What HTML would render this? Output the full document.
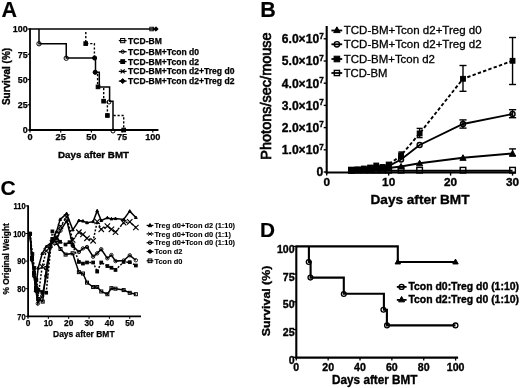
<!DOCTYPE html>
<html lang="en">
<head>
<meta charset="utf-8">
<title>Figure</title>
<style>
html,body{margin:0;padding:0;background:#fff;}
body{width:520px;height:388px;overflow:hidden;}
svg{display:block;font-family:'Liberation Sans', sans-serif;filter:blur(0.4px);}
svg text{fill:#000;}
</style>
</head>
<body>
<svg width="520" height="388" viewBox="0 0 520 388" font-family="'Liberation Sans', sans-serif">
<rect width="520" height="388" fill="#fff"/>
<text x="1.40" y="17.10" font-size="21.5" font-weight="bold" text-anchor="start" stroke="#000" stroke-width="0.15">A</text>
<line x1="30.0" y1="28.2" x2="30.0" y2="130.9" stroke="#000" stroke-width="1.8"/>
<line x1="29.1" y1="130.0" x2="158.44879999999998" y2="130.0" stroke="#000" stroke-width="1.8"/>
<line x1="27.6" y1="130.0" x2="30.0" y2="130.0" stroke="#000" stroke-width="1.2"/>
<text x="27.60" y="133.40" font-size="8.9" font-weight="bold" text-anchor="end" stroke="#000" stroke-width="0.25">0</text>
<line x1="27.6" y1="104.75" x2="30.0" y2="104.75" stroke="#000" stroke-width="1.2"/>
<text x="27.60" y="108.15" font-size="8.9" font-weight="bold" text-anchor="end" stroke="#000" stroke-width="0.25">25</text>
<line x1="27.6" y1="79.5" x2="30.0" y2="79.5" stroke="#000" stroke-width="1.2"/>
<text x="27.60" y="82.90" font-size="8.9" font-weight="bold" text-anchor="end" stroke="#000" stroke-width="0.25">50</text>
<line x1="27.6" y1="54.25" x2="30.0" y2="54.25" stroke="#000" stroke-width="1.2"/>
<text x="27.60" y="57.65" font-size="8.9" font-weight="bold" text-anchor="end" stroke="#000" stroke-width="0.25">75</text>
<line x1="27.6" y1="29.0" x2="30.0" y2="29.0" stroke="#000" stroke-width="1.2"/>
<text x="27.60" y="32.40" font-size="8.9" font-weight="bold" text-anchor="end" stroke="#000" stroke-width="0.25">100</text>
<line x1="30.0" y1="130.0" x2="30.0" y2="132.4" stroke="#000" stroke-width="1.2"/>
<text x="30.00" y="139.50" font-size="9.2" font-weight="bold" text-anchor="middle" stroke="#000" stroke-width="0.25">0</text>
<line x1="60.7" y1="130.0" x2="60.7" y2="132.4" stroke="#000" stroke-width="1.2"/>
<text x="60.70" y="139.50" font-size="9.2" font-weight="bold" text-anchor="middle" stroke="#000" stroke-width="0.25">25</text>
<line x1="91.4" y1="130.0" x2="91.4" y2="132.4" stroke="#000" stroke-width="1.2"/>
<text x="91.40" y="139.50" font-size="9.2" font-weight="bold" text-anchor="middle" stroke="#000" stroke-width="0.25">50</text>
<line x1="122.1" y1="130.0" x2="122.1" y2="132.4" stroke="#000" stroke-width="1.2"/>
<text x="122.10" y="139.50" font-size="9.2" font-weight="bold" text-anchor="middle" stroke="#000" stroke-width="0.25">75</text>
<line x1="152.8" y1="130.0" x2="152.8" y2="132.4" stroke="#000" stroke-width="1.2"/>
<text x="152.80" y="139.50" font-size="9.2" font-weight="bold" text-anchor="middle" stroke="#000" stroke-width="0.25">100</text>
<text x="93.50" y="157.90" font-size="9.6" font-weight="bold" text-anchor="middle" textLength="71" lengthAdjust="spacingAndGlyphs" stroke="#000" stroke-width="0.35">Days after BMT</text>
<text x="9.80" y="76.50" font-size="10.0" font-weight="bold" text-anchor="middle" transform="rotate(-90 9.8 76.5)" textLength="57.2" lengthAdjust="spacingAndGlyphs" stroke="#000" stroke-width="0.35">Survival (%)</text>
<line x1="30.0" y1="29.0" x2="156.5" y2="29.0" stroke="#000" stroke-width="1.7"/>
<rect x="149.80" y="27.20" width="3.6" height="3.6" fill="none" stroke="#000" stroke-width="0.9"/>
<path d="M152.05,27.25L155.55,30.75M152.05,30.75L155.55,27.25" stroke="#000" stroke-width="0.9" fill="none"/>
<polygon points="156.00,26.80 158.20,29.00 156.00,31.20 153.80,29.00" fill="#000" stroke="#000" stroke-width="1"/>
<polyline points="39.00,29.00 39.00,43.75 66.25,43.75 66.25,58.00 95.50,58.00 95.50,72.30 99.30,72.30 99.30,86.90 109.60,86.90 109.60,101.20 113.00,101.20 113.00,130.00" fill="none" stroke="#000" stroke-width="1.5" stroke-linejoin="miter" stroke-linecap="butt"/>
<polyline points="85.80,32.00 85.80,43.60 94.40,43.60 94.40,58.00" fill="none" stroke="#000" stroke-width="1.4" stroke-linejoin="miter" stroke-linecap="butt" stroke-dasharray="2.2,1.8"/>
<polyline points="97.60,74.00 97.60,86.90" fill="none" stroke="#000" stroke-width="1.4" stroke-linejoin="miter" stroke-linecap="butt" stroke-dasharray="2.2,1.8"/>
<polyline points="103.70,88.00 103.70,101.20" fill="none" stroke="#000" stroke-width="1.4" stroke-linejoin="miter" stroke-linecap="butt" stroke-dasharray="2.2,1.8"/>
<polyline points="107.40,101.20 107.40,115.50" fill="none" stroke="#000" stroke-width="1.4" stroke-linejoin="miter" stroke-linecap="butt" stroke-dasharray="2.2,1.8"/>
<polyline points="113.50,115.50 123.70,115.50 123.70,130.00" fill="none" stroke="#000" stroke-width="1.4" stroke-linejoin="miter" stroke-linecap="butt" stroke-dasharray="2.2,1.8"/>
<circle cx="39.00" cy="43.75" r="2.2" fill="none" stroke="#000" stroke-width="1"/>
<circle cx="66.25" cy="58.20" r="2.2" fill="none" stroke="#000" stroke-width="1"/>
<rect x="83.90" y="41.80" width="3.6" height="3.6" fill="#000" stroke="#000" stroke-width="1"/>
<circle cx="94.60" cy="58.00" r="2.1" fill="#000" stroke="#000" stroke-width="1"/>
<circle cx="95.20" cy="72.30" r="2.1" fill="#000" stroke="#000" stroke-width="1"/>
<rect x="96.20" y="85.10" width="3.6" height="3.6" fill="#000" stroke="#000" stroke-width="1"/>
<rect x="101.80" y="99.40" width="3.6" height="3.6" fill="#000" stroke="#000" stroke-width="1"/>
<circle cx="109.00" cy="102.00" r="2.0" fill="none" stroke="#000" stroke-width="1"/>
<rect x="105.60" y="113.70" width="3.6" height="3.6" fill="#000" stroke="#000" stroke-width="1"/>
<circle cx="113.00" cy="131.00" r="2.0" fill="none" stroke="#000" stroke-width="1"/>
<rect x="121.90" y="128.20" width="3.6" height="3.6" fill="#000" stroke="#000" stroke-width="1"/>
<line x1="118.8" y1="40.6" x2="126.6" y2="40.6" stroke="#000" stroke-width="1.3"/>
<rect x="120.60" y="38.50" width="4.2" height="4.2" fill="none" stroke="#000" stroke-width="1.0"/>
<text x="128.10" y="43.60" font-size="8.2" font-weight="bold" text-anchor="start" textLength="33.73" lengthAdjust="spacingAndGlyphs" stroke="#000" stroke-width="0.25">TCD-BM</text>
<line x1="118.8" y1="51.7" x2="126.6" y2="51.7" stroke="#000" stroke-width="1.3"/>
<circle cx="122.70" cy="51.70" r="1.7" fill="none" stroke="#000" stroke-width="1.0"/>
<text x="128.10" y="54.70" font-size="8.2" font-weight="bold" text-anchor="start" textLength="70.88" lengthAdjust="spacingAndGlyphs" stroke="#000" stroke-width="0.25">TCD-BM+Tcon d0</text>
<line x1="118.8" y1="61.6" x2="126.6" y2="61.6" stroke="#000" stroke-width="1.3"/>
<rect x="120.80" y="59.70" width="3.8" height="3.8" fill="#000" stroke="#000" stroke-width="1"/>
<text x="128.10" y="64.60" font-size="8.2" font-weight="bold" text-anchor="start" textLength="70.88" lengthAdjust="spacingAndGlyphs" stroke="#000" stroke-width="0.25">TCD-BM+Tcon d2</text>
<line x1="118.8" y1="71.4" x2="126.6" y2="71.4" stroke="#000" stroke-width="1.3"/>
<path d="M120.70,69.40L124.70,73.40M120.70,73.40L124.70,69.40" stroke="#000" stroke-width="1.2" fill="none"/>
<text x="128.10" y="74.40" font-size="8.2" font-weight="bold" text-anchor="start" textLength="106.3" lengthAdjust="spacingAndGlyphs" stroke="#000" stroke-width="0.25">TCD-BM+Tcon d2+Treg d0</text>
<line x1="118.8" y1="81.1" x2="126.6" y2="81.1" stroke="#000" stroke-width="1.3"/>
<polygon points="122.70,78.60 125.20,81.10 122.70,83.60 120.20,81.10" fill="#000" stroke="#000" stroke-width="1"/>
<text x="128.10" y="84.10" font-size="8.2" font-weight="bold" text-anchor="start" textLength="106.3" lengthAdjust="spacingAndGlyphs" stroke="#000" stroke-width="0.25">TCD-BM+Tcon d2+Treg d2</text>
<text x="260.20" y="17.00" font-size="21.5" font-weight="bold" text-anchor="start" stroke="#000" stroke-width="0.15">B</text>
<line x1="326.7" y1="26" x2="326.7" y2="173.6" stroke="#000" stroke-width="2.1"/>
<line x1="325.7" y1="172.5" x2="515.75" y2="172.5" stroke="#000" stroke-width="2.2"/>
<line x1="323.7" y1="172.0" x2="326.7" y2="172.0" stroke="#000" stroke-width="1.4"/>
<text x="323.30" y="176.30" font-size="12.1" font-weight="bold" text-anchor="end" stroke="#000" stroke-width="0.35">0</text>
<line x1="323.7" y1="149.8" x2="326.7" y2="149.8" stroke="#000" stroke-width="1.4"/>
<text x="323.7" y="154.10000000000002" font-size="12.1" font-weight="bold" text-anchor="end" stroke="#000" stroke-width="0.35">1.0×10<tspan font-size="8.2" dy="-4.4">7</tspan></text>
<line x1="323.7" y1="127.6" x2="326.7" y2="127.6" stroke="#000" stroke-width="1.4"/>
<text x="323.7" y="131.9" font-size="12.1" font-weight="bold" text-anchor="end" stroke="#000" stroke-width="0.35">2.0×10<tspan font-size="8.2" dy="-4.4">7</tspan></text>
<line x1="323.7" y1="105.4" x2="326.7" y2="105.4" stroke="#000" stroke-width="1.4"/>
<text x="323.7" y="109.7" font-size="12.1" font-weight="bold" text-anchor="end" stroke="#000" stroke-width="0.35">3.0×10<tspan font-size="8.2" dy="-4.4">7</tspan></text>
<line x1="323.7" y1="83.2" x2="326.7" y2="83.2" stroke="#000" stroke-width="1.4"/>
<text x="323.7" y="87.5" font-size="12.1" font-weight="bold" text-anchor="end" stroke="#000" stroke-width="0.35">4.0×10<tspan font-size="8.2" dy="-4.4">7</tspan></text>
<line x1="323.7" y1="61.0" x2="326.7" y2="61.0" stroke="#000" stroke-width="1.4"/>
<text x="323.7" y="65.3" font-size="12.1" font-weight="bold" text-anchor="end" stroke="#000" stroke-width="0.35">5.0×10<tspan font-size="8.2" dy="-4.4">7</tspan></text>
<line x1="323.7" y1="38.80000000000001" x2="326.7" y2="38.80000000000001" stroke="#000" stroke-width="1.4"/>
<text x="323.7" y="43.10000000000001" font-size="12.1" font-weight="bold" text-anchor="end" stroke="#000" stroke-width="0.35">6.0×10<tspan font-size="8.2" dy="-4.4">7</tspan></text>
<line x1="326.7" y1="172.0" x2="326.7" y2="175.6" stroke="#000" stroke-width="1.4"/>
<text x="326.70" y="186.10" font-size="11.8" font-weight="bold" text-anchor="middle" stroke="#000" stroke-width="0.35">0</text>
<line x1="388.65" y1="172.0" x2="388.65" y2="175.6" stroke="#000" stroke-width="1.4"/>
<text x="388.65" y="186.10" font-size="11.8" font-weight="bold" text-anchor="middle" stroke="#000" stroke-width="0.35">10</text>
<line x1="450.6" y1="172.0" x2="450.6" y2="175.6" stroke="#000" stroke-width="1.4"/>
<text x="450.60" y="186.10" font-size="11.8" font-weight="bold" text-anchor="middle" stroke="#000" stroke-width="0.35">20</text>
<line x1="512.55" y1="172.0" x2="512.55" y2="175.6" stroke="#000" stroke-width="1.4"/>
<text x="512.55" y="186.10" font-size="11.8" font-weight="bold" text-anchor="middle" stroke="#000" stroke-width="0.35">30</text>
<text x="420.00" y="204.00" font-size="13.6" font-weight="bold" text-anchor="middle" stroke="#000" stroke-width="0.35">Days after BMT</text>
<text x="271.00" y="96.00" font-size="14.3" font-weight="normal" text-anchor="middle" transform="rotate(-90 271.0 96.0)" textLength="127.4" lengthAdjust="spacingAndGlyphs" stroke="#000" stroke-width="0.7">Photons/sec/mouse</text>
<polyline points="351.48,170.80 357.68,170.80 363.87,170.80 370.06,170.80 376.26,170.80 382.45,170.80 388.65,170.80 401.04,170.80 419.62,170.80 462.99,170.80 512.55,170.80" fill="none" stroke="#000" stroke-width="1.9" stroke-linejoin="miter" stroke-linecap="butt"/>
<polyline points="351.48,170.50 357.68,170.00 363.87,169.50 370.06,169.00 376.26,168.50 382.45,168.50 388.65,168.00 401.04,166.50 419.62,163.30 462.99,157.80 512.55,153.50" fill="none" stroke="#000" stroke-width="1.9" stroke-linejoin="miter" stroke-linecap="butt"/>
<polyline points="351.48,170.50 357.68,170.00 363.87,169.50 370.06,168.50 376.26,167.00 382.45,167.50 388.65,166.00 401.04,159.50 419.62,145.00 462.99,124.00 512.55,114.00" fill="none" stroke="#000" stroke-width="1.9" stroke-linejoin="miter" stroke-linecap="butt"/>
<polyline points="351.48,170.00 357.68,169.50 363.87,168.50 370.06,167.50 376.26,165.50 382.45,167.00 388.65,164.50 401.04,155.40 419.62,133.40 462.99,78.80 512.55,60.80" fill="none" stroke="#000" stroke-width="1.9" stroke-linejoin="miter" stroke-linecap="butt" stroke-dasharray="3.4,2.2"/>
<line x1="462.99" y1="65.5" x2="462.99" y2="91.3" stroke="#000" stroke-width="1.4"/>
<line x1="459.49" y1="65.5" x2="466.49" y2="65.5" stroke="#000" stroke-width="1.4"/>
<line x1="459.49" y1="91.3" x2="466.49" y2="91.3" stroke="#000" stroke-width="1.4"/>
<line x1="512.55" y1="37.5" x2="512.55" y2="84.5" stroke="#000" stroke-width="1.4"/>
<line x1="509.04999999999995" y1="37.5" x2="516.05" y2="37.5" stroke="#000" stroke-width="1.4"/>
<line x1="509.04999999999995" y1="84.5" x2="516.05" y2="84.5" stroke="#000" stroke-width="1.4"/>
<line x1="419.625" y1="128.4" x2="419.625" y2="137.6" stroke="#000" stroke-width="1.4"/>
<line x1="416.625" y1="128.4" x2="422.625" y2="128.4" stroke="#000" stroke-width="1.4"/>
<line x1="416.625" y1="137.6" x2="422.625" y2="137.6" stroke="#000" stroke-width="1.4"/>
<line x1="401.03999999999996" y1="152" x2="401.03999999999996" y2="158.5" stroke="#000" stroke-width="1.4"/>
<line x1="398.43999999999994" y1="152" x2="403.64" y2="152" stroke="#000" stroke-width="1.4"/>
<line x1="398.43999999999994" y1="158.5" x2="403.64" y2="158.5" stroke="#000" stroke-width="1.4"/>
<line x1="462.99" y1="119.9" x2="462.99" y2="128.1" stroke="#000" stroke-width="1.4"/>
<line x1="459.39" y1="119.9" x2="466.59000000000003" y2="119.9" stroke="#000" stroke-width="1.4"/>
<line x1="459.39" y1="128.1" x2="466.59000000000003" y2="128.1" stroke="#000" stroke-width="1.4"/>
<line x1="512.55" y1="109.7" x2="512.55" y2="117.7" stroke="#000" stroke-width="1.4"/>
<line x1="508.94999999999993" y1="109.7" x2="516.15" y2="109.7" stroke="#000" stroke-width="1.4"/>
<line x1="508.94999999999993" y1="117.7" x2="516.15" y2="117.7" stroke="#000" stroke-width="1.4"/>
<line x1="512.55" y1="148.9" x2="512.55" y2="156" stroke="#000" stroke-width="1.4"/>
<line x1="509.15" y1="148.9" x2="515.9499999999999" y2="148.9" stroke="#000" stroke-width="1.4"/>
<line x1="509.15" y1="156" x2="515.9499999999999" y2="156" stroke="#000" stroke-width="1.4"/>
<rect x="348.68" y="167.40" width="5.6" height="5.6" fill="none" stroke="#000" stroke-width="1.4"/>
<rect x="354.88" y="167.40" width="5.6" height="5.6" fill="none" stroke="#000" stroke-width="1.4"/>
<rect x="361.07" y="167.40" width="5.6" height="5.6" fill="none" stroke="#000" stroke-width="1.4"/>
<rect x="367.26" y="167.40" width="5.6" height="5.6" fill="none" stroke="#000" stroke-width="1.4"/>
<rect x="373.46" y="167.40" width="5.6" height="5.6" fill="none" stroke="#000" stroke-width="1.4"/>
<rect x="379.65" y="167.40" width="5.6" height="5.6" fill="none" stroke="#000" stroke-width="1.4"/>
<rect x="385.85" y="167.40" width="5.6" height="5.6" fill="none" stroke="#000" stroke-width="1.4"/>
<rect x="398.24" y="167.40" width="5.6" height="5.6" fill="none" stroke="#000" stroke-width="1.4"/>
<rect x="416.82" y="167.40" width="5.6" height="5.6" fill="none" stroke="#000" stroke-width="1.4"/>
<rect x="460.19" y="167.40" width="5.6" height="5.6" fill="none" stroke="#000" stroke-width="1.4"/>
<rect x="509.75" y="167.40" width="5.6" height="5.6" fill="none" stroke="#000" stroke-width="1.4"/>
<polygon points="351.48,167.45 348.38,173.03 354.58,173.03" fill="#000" stroke="#000" stroke-width="1" stroke-linejoin="miter"/>
<polygon points="357.68,166.95 354.57,172.53 360.78,172.53" fill="#000" stroke="#000" stroke-width="1" stroke-linejoin="miter"/>
<polygon points="363.87,166.45 360.77,172.03 366.97,172.03" fill="#000" stroke="#000" stroke-width="1" stroke-linejoin="miter"/>
<polygon points="370.06,165.95 366.96,171.53 373.17,171.53" fill="#000" stroke="#000" stroke-width="1" stroke-linejoin="miter"/>
<polygon points="376.26,165.45 373.16,171.03 379.36,171.03" fill="#000" stroke="#000" stroke-width="1" stroke-linejoin="miter"/>
<polygon points="382.45,165.45 379.35,171.03 385.56,171.03" fill="#000" stroke="#000" stroke-width="1" stroke-linejoin="miter"/>
<polygon points="388.65,164.95 385.55,170.53 391.75,170.53" fill="#000" stroke="#000" stroke-width="1" stroke-linejoin="miter"/>
<polygon points="401.04,163.45 397.94,169.03 404.14,169.03" fill="#000" stroke="#000" stroke-width="1" stroke-linejoin="miter"/>
<polygon points="419.62,160.25 416.52,165.83 422.73,165.83" fill="#000" stroke="#000" stroke-width="1" stroke-linejoin="miter"/>
<polygon points="462.99,154.75 459.89,160.33 466.09,160.33" fill="#000" stroke="#000" stroke-width="1" stroke-linejoin="miter"/>
<polygon points="512.55,150.45 509.45,156.03 515.65,156.03" fill="#000" stroke="#000" stroke-width="1" stroke-linejoin="miter"/>
<circle cx="351.48" cy="170.50" r="2.5" fill="none" stroke="#000" stroke-width="1.4"/>
<circle cx="357.68" cy="170.00" r="2.5" fill="none" stroke="#000" stroke-width="1.4"/>
<circle cx="363.87" cy="169.50" r="2.5" fill="none" stroke="#000" stroke-width="1.4"/>
<circle cx="370.06" cy="168.50" r="2.5" fill="none" stroke="#000" stroke-width="1.4"/>
<circle cx="376.26" cy="167.00" r="2.5" fill="none" stroke="#000" stroke-width="1.4"/>
<circle cx="382.45" cy="167.50" r="2.5" fill="none" stroke="#000" stroke-width="1.4"/>
<circle cx="388.65" cy="166.00" r="2.5" fill="none" stroke="#000" stroke-width="1.4"/>
<circle cx="401.04" cy="159.50" r="2.5" fill="none" stroke="#000" stroke-width="1.4"/>
<circle cx="419.62" cy="145.00" r="2.5" fill="none" stroke="#000" stroke-width="1.4"/>
<circle cx="462.99" cy="124.00" r="2.5" fill="none" stroke="#000" stroke-width="1.4"/>
<circle cx="512.55" cy="114.00" r="2.5" fill="none" stroke="#000" stroke-width="1.4"/>
<rect x="349.08" y="167.60" width="4.8" height="4.8" fill="#000" stroke="#000" stroke-width="1"/>
<rect x="355.28" y="167.10" width="4.8" height="4.8" fill="#000" stroke="#000" stroke-width="1"/>
<rect x="361.47" y="166.10" width="4.8" height="4.8" fill="#000" stroke="#000" stroke-width="1"/>
<rect x="367.67" y="165.10" width="4.8" height="4.8" fill="#000" stroke="#000" stroke-width="1"/>
<rect x="373.86" y="163.10" width="4.8" height="4.8" fill="#000" stroke="#000" stroke-width="1"/>
<rect x="380.06" y="164.60" width="4.8" height="4.8" fill="#000" stroke="#000" stroke-width="1"/>
<rect x="386.25" y="162.10" width="4.8" height="4.8" fill="#000" stroke="#000" stroke-width="1"/>
<rect x="398.64" y="153.00" width="4.8" height="4.8" fill="#000" stroke="#000" stroke-width="1"/>
<rect x="417.23" y="131.00" width="4.8" height="4.8" fill="#000" stroke="#000" stroke-width="1"/>
<rect x="460.59" y="76.40" width="4.8" height="4.8" fill="#000" stroke="#000" stroke-width="1"/>
<rect x="510.15" y="58.40" width="4.8" height="4.8" fill="#000" stroke="#000" stroke-width="1"/>
<line x1="331.4" y1="30.5" x2="342.2" y2="30.5" stroke="#000" stroke-width="1.8"/>
<polygon points="336.90,26.84 333.70,32.60 340.10,32.60" fill="#000" stroke="#000" stroke-width="1" stroke-linejoin="miter"/>
<text x="343.70" y="33.60" font-size="11.4" font-weight="normal" text-anchor="start" textLength="138" lengthAdjust="spacingAndGlyphs" stroke="#000" stroke-width="0.3">TCD-BM+Tcon d2+Treg d0</text>
<line x1="331.4" y1="44.3" x2="342.2" y2="44.3" stroke="#000" stroke-width="1.8"/>
<circle cx="336.90" cy="44.30" r="2.7" fill="none" stroke="#000" stroke-width="1.4"/>
<text x="343.70" y="47.70" font-size="11.4" font-weight="normal" text-anchor="start" textLength="138" lengthAdjust="spacingAndGlyphs" stroke="#000" stroke-width="0.3">TCD-BM+Tcon d2+Treg d2</text>
<line x1="331.4" y1="59.0" x2="342.2" y2="59.0" stroke="#000" stroke-width="1.8"/>
<rect x="334.10" y="56.20" width="5.6" height="5.6" fill="#000" stroke="#000" stroke-width="1"/>
<text x="343.70" y="62.80" font-size="11.4" font-weight="normal" text-anchor="start" textLength="91.3" lengthAdjust="spacingAndGlyphs" stroke="#000" stroke-width="0.3">TCD-BM+Tcon d2</text>
<line x1="331.4" y1="73.0" x2="342.2" y2="73.0" stroke="#000" stroke-width="1.8"/>
<rect x="334.30" y="70.40" width="5.2" height="5.2" fill="none" stroke="#000" stroke-width="1.4"/>
<text x="343.70" y="76.80" font-size="11.4" font-weight="normal" text-anchor="start" textLength="43.8" lengthAdjust="spacingAndGlyphs" stroke="#000" stroke-width="0.3">TCD-BM</text>
<text x="0.60" y="194.80" font-size="21" font-weight="bold" text-anchor="start" stroke="#000" stroke-width="0.15">C</text>
<line x1="28.1" y1="205.30000000000004" x2="28.1" y2="317.2" stroke="#000" stroke-width="1.8"/>
<line x1="27.2" y1="316.3" x2="141" y2="316.3" stroke="#000" stroke-width="1.8"/>
<line x1="25.4" y1="316.3" x2="28.0" y2="316.3" stroke="#000" stroke-width="1.0"/>
<text x="25.60" y="319.60" font-size="8.3" font-weight="bold" text-anchor="end" textLength="8.31" lengthAdjust="spacingAndGlyphs" stroke="#000" stroke-width="0.25">70</text>
<line x1="25.4" y1="288.7" x2="28.0" y2="288.7" stroke="#000" stroke-width="1.0"/>
<text x="25.60" y="292.00" font-size="8.3" font-weight="bold" text-anchor="end" textLength="8.31" lengthAdjust="spacingAndGlyphs" stroke="#000" stroke-width="0.25">80</text>
<line x1="25.4" y1="261.1" x2="28.0" y2="261.1" stroke="#000" stroke-width="1.0"/>
<text x="25.60" y="264.40" font-size="8.3" font-weight="bold" text-anchor="end" textLength="8.31" lengthAdjust="spacingAndGlyphs" stroke="#000" stroke-width="0.25">90</text>
<line x1="25.4" y1="233.5" x2="28.0" y2="233.5" stroke="#000" stroke-width="1.0"/>
<text x="25.60" y="236.80" font-size="8.3" font-weight="bold" text-anchor="end" textLength="12.46" lengthAdjust="spacingAndGlyphs" stroke="#000" stroke-width="0.25">100</text>
<line x1="25.4" y1="205.90000000000003" x2="28.0" y2="205.90000000000003" stroke="#000" stroke-width="1.0"/>
<text x="25.60" y="209.20" font-size="8.3" font-weight="bold" text-anchor="end" textLength="12.05" lengthAdjust="spacingAndGlyphs" stroke="#000" stroke-width="0.25">110</text>
<line x1="28.0" y1="316.3" x2="28.0" y2="318.90000000000003" stroke="#000" stroke-width="1.0"/>
<text x="28.00" y="325.50" font-size="8.3" font-weight="bold" text-anchor="middle" stroke="#000" stroke-width="0.25">0</text>
<line x1="48.35" y1="316.3" x2="48.35" y2="318.90000000000003" stroke="#000" stroke-width="1.0"/>
<text x="48.35" y="325.50" font-size="8.3" font-weight="bold" text-anchor="middle" stroke="#000" stroke-width="0.25">10</text>
<line x1="68.7" y1="316.3" x2="68.7" y2="318.90000000000003" stroke="#000" stroke-width="1.0"/>
<text x="68.70" y="325.50" font-size="8.3" font-weight="bold" text-anchor="middle" stroke="#000" stroke-width="0.25">20</text>
<line x1="89.05000000000001" y1="316.3" x2="89.05000000000001" y2="318.90000000000003" stroke="#000" stroke-width="1.0"/>
<text x="89.05" y="325.50" font-size="8.3" font-weight="bold" text-anchor="middle" stroke="#000" stroke-width="0.25">30</text>
<line x1="109.4" y1="316.3" x2="109.4" y2="318.90000000000003" stroke="#000" stroke-width="1.0"/>
<text x="109.40" y="325.50" font-size="8.3" font-weight="bold" text-anchor="middle" stroke="#000" stroke-width="0.25">40</text>
<line x1="129.75" y1="316.3" x2="129.75" y2="318.90000000000003" stroke="#000" stroke-width="1.0"/>
<text x="129.75" y="325.50" font-size="8.3" font-weight="bold" text-anchor="middle" stroke="#000" stroke-width="0.25">50</text>
<text x="83.80" y="337.40" font-size="9.0" font-weight="bold" text-anchor="middle" textLength="61.5" lengthAdjust="spacingAndGlyphs" stroke="#000" stroke-width="0.25">Days after BMT</text>
<text x="8.80" y="258.80" font-size="8.4" font-weight="bold" text-anchor="middle" transform="rotate(-90 8.8 258.8)" textLength="71.2" lengthAdjust="spacingAndGlyphs" stroke="#000" stroke-width="0.25">% Original Weight</text>
<polyline points="30.00,233.80 32.00,258.00 34.00,273.00 36.00,288.00 38.20,299.00 42.70,301.60 46.30,268.00 50.40,246.00 52.40,239.00 56.50,243.00 60.50,249.00 65.60,254.60 72.60,253.30 78.88,272.14 82.95,273.52 87.02,282.63 93.12,287.04 97.19,287.04 101.26,291.46 107.37,294.22 111.44,288.15 115.51,288.70 123.65,290.08 129.75,292.84 135.86,294.22" fill="none" stroke="#000" stroke-width="1.5" stroke-linejoin="miter" stroke-linecap="butt"/>
<polyline points="30.00,233.80 32.00,260.00 34.00,276.00 36.00,291.00 37.80,303.60 42.20,296.00 46.30,276.00 50.40,247.00 52.40,240.50 56.50,239.00 60.50,230.70 66.80,220.60 73.00,246.00 78.88,251.99 82.95,248.40 87.02,247.02 93.12,256.68 97.19,253.37 101.26,249.23 107.37,258.34 111.44,255.03 115.51,261.10 123.65,260.55 129.75,255.30 135.86,260.27" fill="none" stroke="#000" stroke-width="1.5" stroke-linejoin="miter" stroke-linecap="butt"/>
<polyline points="30.00,233.80 32.40,254.00 34.40,268.00 36.40,280.00 38.40,290.00 42.20,292.00 46.20,292.70 52.40,231.40 56.50,238.00 60.00,241.80 65.50,244.50 69.50,242.20 72.50,244.50 78.88,261.93 82.95,263.58 87.02,262.48 93.12,262.48 97.19,271.59 101.26,262.48 107.37,266.07 111.44,267.72 115.51,269.93 123.65,261.93 129.75,262.20 135.86,265.52" fill="none" stroke="#000" stroke-width="1.5" stroke-linejoin="miter" stroke-linecap="butt" stroke-dasharray="2,1.6"/>
<polyline points="30.00,233.80 32.20,256.00 34.20,270.00 36.20,284.00 38.20,296.00 42.20,266.50 46.30,251.00 52.40,243.00 56.50,237.60 60.50,226.50 66.60,217.00 72.70,240.00 78.88,232.20 82.95,234.41 87.02,238.30 93.12,240.79 97.19,221.49 101.26,229.30 107.37,226.10 111.44,229.30 115.51,232.20 123.65,222.71 129.75,221.80 135.86,227.51" fill="none" stroke="#000" stroke-width="1.5" stroke-linejoin="miter" stroke-linecap="butt" stroke-dasharray="2,1.6"/>
<polyline points="30.00,233.80 32.00,259.00 34.00,274.00 35.60,290.40 38.20,268.00 42.20,253.50 46.30,246.50 52.40,241.50 56.50,231.60 60.20,219.40 66.60,213.60 72.80,229.80 78.88,220.53 82.95,221.08 87.02,222.74 93.12,221.63 97.19,210.87 101.26,220.53 107.37,217.77 111.44,218.87 115.51,218.60 123.65,219.42 129.75,211.14 135.86,217.49" fill="none" stroke="#000" stroke-width="1.5" stroke-linejoin="miter" stroke-linecap="butt"/>
<rect x="28.50" y="232.30" width="3.0" height="3.0" fill="none" stroke="#000" stroke-width="1.0"/>
<rect x="30.50" y="256.50" width="3.0" height="3.0" fill="none" stroke="#000" stroke-width="1.0"/>
<rect x="32.50" y="271.50" width="3.0" height="3.0" fill="none" stroke="#000" stroke-width="1.0"/>
<rect x="34.50" y="286.50" width="3.0" height="3.0" fill="none" stroke="#000" stroke-width="1.0"/>
<rect x="36.70" y="297.50" width="3.0" height="3.0" fill="none" stroke="#000" stroke-width="1.0"/>
<rect x="41.20" y="300.10" width="3.0" height="3.0" fill="none" stroke="#000" stroke-width="1.0"/>
<rect x="44.80" y="266.50" width="3.0" height="3.0" fill="none" stroke="#000" stroke-width="1.0"/>
<rect x="48.90" y="244.50" width="3.0" height="3.0" fill="none" stroke="#000" stroke-width="1.0"/>
<rect x="50.90" y="237.50" width="3.0" height="3.0" fill="none" stroke="#000" stroke-width="1.0"/>
<rect x="55.00" y="241.50" width="3.0" height="3.0" fill="none" stroke="#000" stroke-width="1.0"/>
<rect x="59.00" y="247.50" width="3.0" height="3.0" fill="none" stroke="#000" stroke-width="1.0"/>
<rect x="64.10" y="253.10" width="3.0" height="3.0" fill="none" stroke="#000" stroke-width="1.0"/>
<rect x="71.10" y="251.80" width="3.0" height="3.0" fill="none" stroke="#000" stroke-width="1.0"/>
<rect x="77.38" y="270.64" width="3.0" height="3.0" fill="none" stroke="#000" stroke-width="1.0"/>
<rect x="81.45" y="272.02" width="3.0" height="3.0" fill="none" stroke="#000" stroke-width="1.0"/>
<rect x="85.52" y="281.13" width="3.0" height="3.0" fill="none" stroke="#000" stroke-width="1.0"/>
<rect x="91.62" y="285.54" width="3.0" height="3.0" fill="none" stroke="#000" stroke-width="1.0"/>
<rect x="95.69" y="285.54" width="3.0" height="3.0" fill="none" stroke="#000" stroke-width="1.0"/>
<rect x="99.76" y="289.96" width="3.0" height="3.0" fill="none" stroke="#000" stroke-width="1.0"/>
<rect x="105.87" y="292.72" width="3.0" height="3.0" fill="none" stroke="#000" stroke-width="1.0"/>
<rect x="109.94" y="286.65" width="3.0" height="3.0" fill="none" stroke="#000" stroke-width="1.0"/>
<rect x="114.01" y="287.20" width="3.0" height="3.0" fill="none" stroke="#000" stroke-width="1.0"/>
<rect x="122.15" y="288.58" width="3.0" height="3.0" fill="none" stroke="#000" stroke-width="1.0"/>
<rect x="128.25" y="291.34" width="3.0" height="3.0" fill="none" stroke="#000" stroke-width="1.0"/>
<rect x="134.36" y="292.72" width="3.0" height="3.0" fill="none" stroke="#000" stroke-width="1.0"/>
<circle cx="30.00" cy="233.80" r="1.7" fill="none" stroke="#000" stroke-width="0.9"/>
<circle cx="32.00" cy="260.00" r="1.7" fill="none" stroke="#000" stroke-width="0.9"/>
<circle cx="34.00" cy="276.00" r="1.7" fill="none" stroke="#000" stroke-width="0.9"/>
<circle cx="36.00" cy="291.00" r="1.7" fill="none" stroke="#000" stroke-width="0.9"/>
<circle cx="37.80" cy="303.60" r="1.7" fill="none" stroke="#000" stroke-width="0.9"/>
<circle cx="42.20" cy="296.00" r="1.7" fill="none" stroke="#000" stroke-width="0.9"/>
<circle cx="46.30" cy="276.00" r="1.7" fill="none" stroke="#000" stroke-width="0.9"/>
<circle cx="50.40" cy="247.00" r="1.7" fill="none" stroke="#000" stroke-width="0.9"/>
<circle cx="52.40" cy="240.50" r="1.7" fill="none" stroke="#000" stroke-width="0.9"/>
<circle cx="56.50" cy="239.00" r="1.7" fill="none" stroke="#000" stroke-width="0.9"/>
<circle cx="60.50" cy="230.70" r="1.7" fill="none" stroke="#000" stroke-width="0.9"/>
<circle cx="66.80" cy="220.60" r="1.7" fill="none" stroke="#000" stroke-width="0.9"/>
<circle cx="73.00" cy="246.00" r="1.7" fill="none" stroke="#000" stroke-width="0.9"/>
<circle cx="78.88" cy="251.99" r="1.7" fill="none" stroke="#000" stroke-width="0.9"/>
<circle cx="82.95" cy="248.40" r="1.7" fill="none" stroke="#000" stroke-width="0.9"/>
<circle cx="87.02" cy="247.02" r="1.7" fill="none" stroke="#000" stroke-width="0.9"/>
<circle cx="93.12" cy="256.68" r="1.7" fill="none" stroke="#000" stroke-width="0.9"/>
<circle cx="97.19" cy="253.37" r="1.7" fill="none" stroke="#000" stroke-width="0.9"/>
<circle cx="101.26" cy="249.23" r="1.7" fill="none" stroke="#000" stroke-width="0.9"/>
<circle cx="107.37" cy="258.34" r="1.7" fill="none" stroke="#000" stroke-width="0.9"/>
<circle cx="111.44" cy="255.03" r="1.7" fill="none" stroke="#000" stroke-width="0.9"/>
<circle cx="115.51" cy="261.10" r="1.7" fill="none" stroke="#000" stroke-width="0.9"/>
<circle cx="123.65" cy="260.55" r="1.7" fill="none" stroke="#000" stroke-width="0.9"/>
<circle cx="129.75" cy="255.30" r="1.7" fill="none" stroke="#000" stroke-width="0.9"/>
<circle cx="135.86" cy="260.27" r="1.7" fill="none" stroke="#000" stroke-width="0.9"/>
<rect x="28.65" y="232.45" width="2.7" height="2.7" fill="#000" stroke="#000" stroke-width="1"/>
<rect x="31.05" y="252.65" width="2.7" height="2.7" fill="#000" stroke="#000" stroke-width="1"/>
<rect x="33.05" y="266.65" width="2.7" height="2.7" fill="#000" stroke="#000" stroke-width="1"/>
<rect x="35.05" y="278.65" width="2.7" height="2.7" fill="#000" stroke="#000" stroke-width="1"/>
<rect x="37.05" y="288.65" width="2.7" height="2.7" fill="#000" stroke="#000" stroke-width="1"/>
<rect x="40.85" y="290.65" width="2.7" height="2.7" fill="#000" stroke="#000" stroke-width="1"/>
<rect x="44.85" y="291.35" width="2.7" height="2.7" fill="#000" stroke="#000" stroke-width="1"/>
<rect x="51.05" y="230.05" width="2.7" height="2.7" fill="#000" stroke="#000" stroke-width="1"/>
<rect x="55.15" y="236.65" width="2.7" height="2.7" fill="#000" stroke="#000" stroke-width="1"/>
<rect x="58.65" y="240.45" width="2.7" height="2.7" fill="#000" stroke="#000" stroke-width="1"/>
<rect x="64.15" y="243.15" width="2.7" height="2.7" fill="#000" stroke="#000" stroke-width="1"/>
<rect x="68.15" y="240.85" width="2.7" height="2.7" fill="#000" stroke="#000" stroke-width="1"/>
<rect x="71.15" y="243.15" width="2.7" height="2.7" fill="#000" stroke="#000" stroke-width="1"/>
<rect x="77.53" y="260.58" width="2.7" height="2.7" fill="#000" stroke="#000" stroke-width="1"/>
<rect x="81.60" y="262.23" width="2.7" height="2.7" fill="#000" stroke="#000" stroke-width="1"/>
<rect x="85.67" y="261.13" width="2.7" height="2.7" fill="#000" stroke="#000" stroke-width="1"/>
<rect x="91.77" y="261.13" width="2.7" height="2.7" fill="#000" stroke="#000" stroke-width="1"/>
<rect x="95.84" y="270.24" width="2.7" height="2.7" fill="#000" stroke="#000" stroke-width="1"/>
<rect x="99.91" y="261.13" width="2.7" height="2.7" fill="#000" stroke="#000" stroke-width="1"/>
<rect x="106.02" y="264.72" width="2.7" height="2.7" fill="#000" stroke="#000" stroke-width="1"/>
<rect x="110.09" y="266.37" width="2.7" height="2.7" fill="#000" stroke="#000" stroke-width="1"/>
<rect x="114.16" y="268.58" width="2.7" height="2.7" fill="#000" stroke="#000" stroke-width="1"/>
<rect x="122.30" y="260.58" width="2.7" height="2.7" fill="#000" stroke="#000" stroke-width="1"/>
<rect x="128.40" y="260.85" width="2.7" height="2.7" fill="#000" stroke="#000" stroke-width="1"/>
<rect x="134.51" y="264.17" width="2.7" height="2.7" fill="#000" stroke="#000" stroke-width="1"/>
<path d="M39.50,263.80L44.90,269.20M39.50,269.20L44.90,263.80" stroke="#000" stroke-width="1.1" fill="none"/>
<path d="M43.60,248.30L49.00,253.70M43.60,253.70L49.00,248.30" stroke="#000" stroke-width="1.1" fill="none"/>
<path d="M49.70,240.30L55.10,245.70M49.70,245.70L55.10,240.30" stroke="#000" stroke-width="1.1" fill="none"/>
<path d="M53.80,234.90L59.20,240.30M53.80,240.30L59.20,234.90" stroke="#000" stroke-width="1.1" fill="none"/>
<path d="M57.80,223.80L63.20,229.20M57.80,229.20L63.20,223.80" stroke="#000" stroke-width="1.1" fill="none"/>
<path d="M63.90,214.30L69.30,219.70M63.90,219.70L69.30,214.30" stroke="#000" stroke-width="1.1" fill="none"/>
<path d="M70.00,237.30L75.40,242.70M70.00,242.70L75.40,237.30" stroke="#000" stroke-width="1.1" fill="none"/>
<path d="M76.17,229.50L81.58,234.90M76.17,234.90L81.58,229.50" stroke="#000" stroke-width="1.1" fill="none"/>
<path d="M80.25,231.71L85.65,237.11M80.25,237.11L85.65,231.71" stroke="#000" stroke-width="1.1" fill="none"/>
<path d="M84.31,235.60L89.72,241.00M84.31,241.00L89.72,235.60" stroke="#000" stroke-width="1.1" fill="none"/>
<path d="M90.42,238.09L95.82,243.49M90.42,243.49L95.82,238.09" stroke="#000" stroke-width="1.1" fill="none"/>
<path d="M94.49,218.79L99.89,224.19M94.49,224.19L99.89,218.79" stroke="#000" stroke-width="1.1" fill="none"/>
<path d="M98.56,226.60L103.96,232.00M98.56,232.00L103.96,226.60" stroke="#000" stroke-width="1.1" fill="none"/>
<path d="M104.67,223.40L110.07,228.80M104.67,228.80L110.07,223.40" stroke="#000" stroke-width="1.1" fill="none"/>
<path d="M108.73,226.60L114.14,232.00M108.73,232.00L114.14,226.60" stroke="#000" stroke-width="1.1" fill="none"/>
<path d="M112.81,229.50L118.21,234.90M112.81,234.90L118.21,229.50" stroke="#000" stroke-width="1.1" fill="none"/>
<path d="M120.95,220.01L126.35,225.41M120.95,225.41L126.35,220.01" stroke="#000" stroke-width="1.1" fill="none"/>
<path d="M127.05,219.10L132.45,224.50M127.05,224.50L132.45,219.10" stroke="#000" stroke-width="1.1" fill="none"/>
<path d="M133.16,224.81L138.56,230.21M133.16,230.21L138.56,224.81" stroke="#000" stroke-width="1.1" fill="none"/>
<polygon points="30.00,232.29 28.60,234.81 31.40,234.81" fill="#000" stroke="#000" stroke-width="1" stroke-linejoin="miter"/>
<polygon points="32.00,257.49 30.60,260.01 33.40,260.01" fill="#000" stroke="#000" stroke-width="1" stroke-linejoin="miter"/>
<polygon points="34.00,272.49 32.60,275.01 35.40,275.01" fill="#000" stroke="#000" stroke-width="1" stroke-linejoin="miter"/>
<polygon points="35.60,288.89 34.20,291.41 37.00,291.41" fill="#000" stroke="#000" stroke-width="1" stroke-linejoin="miter"/>
<polygon points="38.20,266.49 36.80,269.01 39.60,269.01" fill="#000" stroke="#000" stroke-width="1" stroke-linejoin="miter"/>
<polygon points="42.20,251.99 40.80,254.51 43.60,254.51" fill="#000" stroke="#000" stroke-width="1" stroke-linejoin="miter"/>
<polygon points="46.30,244.99 44.90,247.51 47.70,247.51" fill="#000" stroke="#000" stroke-width="1" stroke-linejoin="miter"/>
<polygon points="52.40,239.99 51.00,242.51 53.80,242.51" fill="#000" stroke="#000" stroke-width="1" stroke-linejoin="miter"/>
<polygon points="56.50,230.09 55.10,232.61 57.90,232.61" fill="#000" stroke="#000" stroke-width="1" stroke-linejoin="miter"/>
<polygon points="60.20,217.89 58.80,220.41 61.60,220.41" fill="#000" stroke="#000" stroke-width="1" stroke-linejoin="miter"/>
<polygon points="66.60,212.09 65.20,214.61 68.00,214.61" fill="#000" stroke="#000" stroke-width="1" stroke-linejoin="miter"/>
<polygon points="72.80,228.29 71.40,230.81 74.20,230.81" fill="#000" stroke="#000" stroke-width="1" stroke-linejoin="miter"/>
<polygon points="78.88,219.02 77.47,221.54 80.28,221.54" fill="#000" stroke="#000" stroke-width="1" stroke-linejoin="miter"/>
<polygon points="82.95,219.57 81.55,222.09 84.35,222.09" fill="#000" stroke="#000" stroke-width="1" stroke-linejoin="miter"/>
<polygon points="87.02,221.22 85.61,223.74 88.42,223.74" fill="#000" stroke="#000" stroke-width="1" stroke-linejoin="miter"/>
<polygon points="93.12,220.12 91.72,222.64 94.52,222.64" fill="#000" stroke="#000" stroke-width="1" stroke-linejoin="miter"/>
<polygon points="97.19,209.36 95.79,211.88 98.59,211.88" fill="#000" stroke="#000" stroke-width="1" stroke-linejoin="miter"/>
<polygon points="101.26,219.02 99.86,221.54 102.66,221.54" fill="#000" stroke="#000" stroke-width="1" stroke-linejoin="miter"/>
<polygon points="107.37,216.26 105.97,218.78 108.77,218.78" fill="#000" stroke="#000" stroke-width="1" stroke-linejoin="miter"/>
<polygon points="111.44,217.36 110.03,219.88 112.84,219.88" fill="#000" stroke="#000" stroke-width="1" stroke-linejoin="miter"/>
<polygon points="115.51,217.08 114.11,219.60 116.91,219.60" fill="#000" stroke="#000" stroke-width="1" stroke-linejoin="miter"/>
<polygon points="123.65,217.91 122.25,220.43 125.05,220.43" fill="#000" stroke="#000" stroke-width="1" stroke-linejoin="miter"/>
<polygon points="129.75,209.63 128.35,212.15 131.15,212.15" fill="#000" stroke="#000" stroke-width="1" stroke-linejoin="miter"/>
<polygon points="135.86,215.98 134.46,218.50 137.26,218.50" fill="#000" stroke="#000" stroke-width="1" stroke-linejoin="miter"/>
<line x1="146.6" y1="225.4" x2="153.4" y2="225.4" stroke="#000" stroke-width="1.2"/>
<polygon points="150.00,223.46 148.20,226.70 151.80,226.70" fill="#000" stroke="#000" stroke-width="1" stroke-linejoin="miter"/>
<text x="154.50" y="228.10" font-size="7.3" font-weight="bold" text-anchor="start" textLength="80.5" lengthAdjust="spacingAndGlyphs" stroke="#000" stroke-width="0.1">Treg d0+Tcon d2 (1:10)</text>
<line x1="146.6" y1="233.9" x2="153.4" y2="233.9" stroke="#000" stroke-width="1.2"/>
<path d="M148.20,232.10L151.80,235.70M148.20,235.70L151.80,232.10" stroke="#000" stroke-width="1.0" fill="none"/>
<text x="154.50" y="236.60" font-size="7.3" font-weight="bold" text-anchor="start" textLength="76.37" lengthAdjust="spacingAndGlyphs" stroke="#000" stroke-width="0.1">Treg d0+Tcon d0 (1:1)</text>
<line x1="146.6" y1="242.7" x2="153.4" y2="242.7" stroke="#000" stroke-width="1.2"/>
<circle cx="150.00" cy="242.70" r="1.8" fill="none" stroke="#000" stroke-width="1.0"/>
<text x="154.50" y="245.40" font-size="7.3" font-weight="bold" text-anchor="start" textLength="80.5" lengthAdjust="spacingAndGlyphs" stroke="#000" stroke-width="0.1">Treg d0+Tcon d0 (1:10)</text>
<line x1="146.6" y1="251.5" x2="153.4" y2="251.5" stroke="#000" stroke-width="1.2"/>
<circle cx="150.00" cy="251.50" r="1.7" fill="#000" stroke="#000" stroke-width="1"/>
<text x="154.50" y="254.20" font-size="7.3" font-weight="bold" text-anchor="start" textLength="27.9" lengthAdjust="spacingAndGlyphs" stroke="#000" stroke-width="0.1">Tcon d2</text>
<line x1="146.6" y1="260.8" x2="153.4" y2="260.8" stroke="#000" stroke-width="1.2"/>
<rect x="148.15" y="258.95" width="3.7" height="3.7" fill="none" stroke="#000" stroke-width="1.0"/>
<text x="154.50" y="263.50" font-size="7.3" font-weight="bold" text-anchor="start" textLength="27.9" lengthAdjust="spacingAndGlyphs" stroke="#000" stroke-width="0.1">Tcon d0</text>
<text x="259.90" y="236.50" font-size="20.8" font-weight="bold" text-anchor="start" stroke="#000" stroke-width="0.15">D</text>
<line x1="296.3" y1="245.5" x2="296.3" y2="358.7" stroke="#000" stroke-width="2.1"/>
<line x1="295.3" y1="357.6" x2="458.1" y2="357.6" stroke="#000" stroke-width="2.2"/>
<line x1="293.0" y1="357.3" x2="296.3" y2="357.3" stroke="#000" stroke-width="1.3"/>
<text x="294.60" y="363.80" font-size="10.6" font-weight="bold" text-anchor="end" stroke="#000" stroke-width="0.35">0</text>
<line x1="293.0" y1="329.575" x2="296.3" y2="329.575" stroke="#000" stroke-width="1.3"/>
<text x="294.60" y="336.07" font-size="10.6" font-weight="bold" text-anchor="end" stroke="#000" stroke-width="0.35">25</text>
<line x1="293.0" y1="301.85" x2="296.3" y2="301.85" stroke="#000" stroke-width="1.3"/>
<text x="294.60" y="308.35" font-size="10.6" font-weight="bold" text-anchor="end" stroke="#000" stroke-width="0.35">50</text>
<line x1="293.0" y1="274.125" x2="296.3" y2="274.125" stroke="#000" stroke-width="1.3"/>
<text x="294.60" y="280.62" font-size="10.6" font-weight="bold" text-anchor="end" stroke="#000" stroke-width="0.35">75</text>
<line x1="293.0" y1="246.4" x2="296.3" y2="246.4" stroke="#000" stroke-width="1.3"/>
<text x="294.60" y="252.90" font-size="10.6" font-weight="bold" text-anchor="end" stroke="#000" stroke-width="0.35">100</text>
<line x1="296.3" y1="357.3" x2="296.3" y2="360.6" stroke="#000" stroke-width="1.3"/>
<text x="296.30" y="370.50" font-size="10.6" font-weight="bold" text-anchor="middle" stroke="#000" stroke-width="0.35">0</text>
<line x1="328.16" y1="357.3" x2="328.16" y2="360.6" stroke="#000" stroke-width="1.3"/>
<text x="328.16" y="370.50" font-size="10.6" font-weight="bold" text-anchor="middle" stroke="#000" stroke-width="0.35">20</text>
<line x1="360.02" y1="357.3" x2="360.02" y2="360.6" stroke="#000" stroke-width="1.3"/>
<text x="360.02" y="370.50" font-size="10.6" font-weight="bold" text-anchor="middle" stroke="#000" stroke-width="0.35">40</text>
<line x1="391.88" y1="357.3" x2="391.88" y2="360.6" stroke="#000" stroke-width="1.3"/>
<text x="391.88" y="370.50" font-size="10.6" font-weight="bold" text-anchor="middle" stroke="#000" stroke-width="0.35">60</text>
<line x1="423.74" y1="357.3" x2="423.74" y2="360.6" stroke="#000" stroke-width="1.3"/>
<text x="423.74" y="370.50" font-size="10.6" font-weight="bold" text-anchor="middle" stroke="#000" stroke-width="0.35">80</text>
<line x1="455.6" y1="357.3" x2="455.6" y2="360.6" stroke="#000" stroke-width="1.3"/>
<text x="455.60" y="370.50" font-size="10.6" font-weight="bold" text-anchor="middle" stroke="#000" stroke-width="0.35">100</text>
<text x="374.80" y="384.00" font-size="12.0" font-weight="bold" text-anchor="middle" textLength="85.4" lengthAdjust="spacingAndGlyphs" stroke="#000" stroke-width="0.35">Days after BMT</text>
<text x="270.00" y="301.00" font-size="11.2" font-weight="bold" text-anchor="middle" transform="rotate(-90 270.0 301.0)" textLength="70.6" lengthAdjust="spacingAndGlyphs" stroke="#000" stroke-width="0.35">Survival (%)</text>
<polyline points="296.30,246.40 397.80,246.40 397.80,262.00 455.50,262.00" fill="none" stroke="#000" stroke-width="2.1" stroke-linejoin="miter" stroke-linecap="butt"/>
<polyline points="308.90,246.40 308.90,262.00 310.60,262.00 310.60,277.60 343.80,277.60 343.80,293.80 383.90,293.80 383.90,309.80 386.90,309.80 386.90,325.40 455.50,325.40" fill="none" stroke="#000" stroke-width="2.1" stroke-linejoin="miter" stroke-linecap="butt"/>
<circle cx="308.70" cy="262.00" r="2.4" fill="none" stroke="#000" stroke-width="1.3"/>
<circle cx="310.40" cy="277.60" r="2.4" fill="none" stroke="#000" stroke-width="1.3"/>
<circle cx="343.80" cy="294.00" r="2.4" fill="none" stroke="#000" stroke-width="1.3"/>
<circle cx="383.40" cy="309.80" r="2.4" fill="none" stroke="#000" stroke-width="1.3"/>
<circle cx="387.00" cy="325.40" r="2.4" fill="none" stroke="#000" stroke-width="1.3"/>
<circle cx="455.50" cy="325.40" r="2.4" fill="none" stroke="#000" stroke-width="1.3"/>
<polygon points="397.80,259.08 395.10,263.94 400.50,263.94" fill="#000" stroke="#000" stroke-width="1" stroke-linejoin="miter"/>
<polygon points="455.50,259.08 452.80,263.94 458.20,263.94" fill="#000" stroke="#000" stroke-width="1" stroke-linejoin="miter"/>
<line x1="396.8" y1="286.9" x2="406.6" y2="286.9" stroke="#000" stroke-width="1.8"/>
<circle cx="401.60" cy="286.90" r="2.5" fill="none" stroke="#000" stroke-width="1.4"/>
<text x="408.40" y="290.40" font-size="10.0" font-weight="bold" text-anchor="start" textLength="110.6" lengthAdjust="spacingAndGlyphs" stroke="#000" stroke-width="0.35">Tcon d0:Treg d0 (1:10)</text>
<line x1="396.8" y1="299.9" x2="406.6" y2="299.9" stroke="#000" stroke-width="1.8"/>
<polygon points="401.60,296.46 398.60,301.86 404.60,301.86" fill="#000" stroke="#000" stroke-width="1" stroke-linejoin="miter"/>
<text x="408.40" y="303.40" font-size="10.0" font-weight="bold" text-anchor="start" textLength="110.6" lengthAdjust="spacingAndGlyphs" stroke="#000" stroke-width="0.35">Tcon d2:Treg d0 (1:10)</text>
</svg>
</body>
</html>
